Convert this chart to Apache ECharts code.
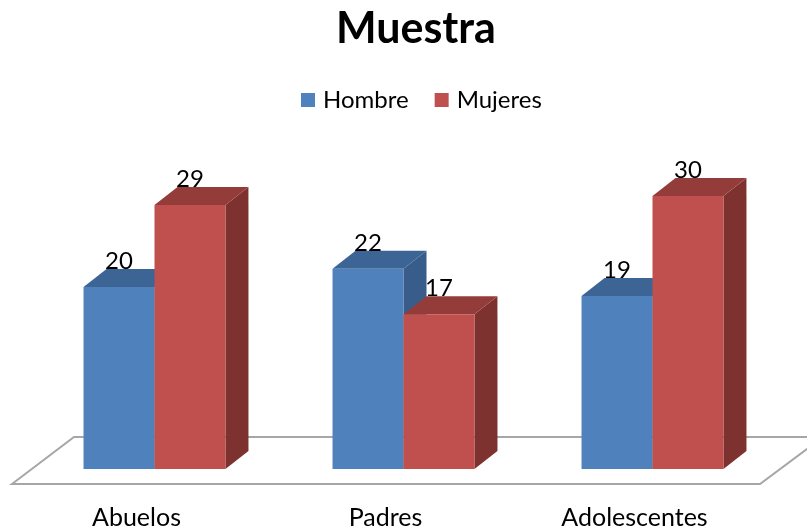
<!DOCTYPE html>
<html>
<head>
<meta charset="utf-8">
<script src="https://cdn.jsdelivr.net/npm/echarts@6/dist/echarts.min.js"></script>
<style>html,body{margin:0;padding:0;background:#fff;}#c{width:807px;height:526px;}</style>
</head>
<body>
<div id="c"></div>
<script>
const categories = ['Abuelos', 'Padres', 'Adolescentes'];
const seriesNames = ['Hombre', 'Mujeres'];
const hombre = [20, 22, 19];
const mujeres = [29, 17, 30];

const FONT = 'Lato';
const palettes = [
  { front: '#4F81BD', top: '#3C6595', side: '#385D8A' },
  { front: '#C0504D', top: '#943C3A', side: '#7D3230' }
];
const DX = 23, DY = 18;

function makeRender(idx) {
  const pal = palettes[idx];
  return function (params, api) {
    const cat = api.value(0), val = api.value(1);
    const base = api.coord([cat, 0]);
    const top = api.coord([cat, val]);
    const band = api.size([1, 0])[0];
    const w = band * 0.285;
    const x0 = idx === 0 ? base[0] - w : base[0];
    const x1 = x0 + w;
    const yb = base[1], yt = top[1];
    return {
      type: 'group',
      children: [
        { type: 'polygon', shape: { points: [[x1, yt], [x1 + DX, yt - DY], [x1 + DX, yb - DY], [x1, yb]] }, style: { fill: pal.side } },
        { type: 'polygon', shape: { points: [[x0, yt], [x1, yt], [x1 + DX, yt - DY], [x0 + DX, yt - DY]] }, style: { fill: pal.top } },
        { type: 'rect', shape: { x: x0, y: yt, width: w, height: yb - yt }, style: { fill: pal.front } },
        { type: 'text', x: (x0 + x1) / 2, y: yt - DY + 4, style: { text: String(val), fill: '#000', font: '24px ' + FONT, align: 'center', verticalAlign: 'bottom' } }
      ]
    };
  };
}

function floorRender(params, api) {
  const cs = params.coordSys;
  const y0 = cs.y + cs.height;
  const l = cs.x, r = cs.x + cs.width;
  return {
    type: 'polygon',
    shape: { points: [[l - 18, y0 + 15], [l + 44, y0 - 32], [r + 46, y0 - 32], [r - 17, y0 + 15]] },
    style: { fill: '#fff', stroke: '#A6A6A6', lineWidth: 2 },
    z2: 0
  };
}

const chart = echarts.init(document.getElementById('c'));
chart.setOption({
  animation: false,
  title: {
    text: 'Muestra', left: 331, top: 3,
    textStyle: { fontFamily: FONT, fontWeight: 'bold', fontSize: 43, color: '#000' }
  },
  legend: {
    data: seriesNames, left: 296, top: 83,
    icon: 'rect', itemWidth: 14, itemHeight: 14, itemGap: 26,
    textStyle: { fontFamily: FONT, fontSize: 24, color: '#000', padding: [0, 0, 0, 3] }
  },
  grid: { left: 30, right: 30, top: 150.5, bottom: 57, containLabel: false, outerBoundsMode: 'none' },
  xAxis: {
    type: 'category', data: categories,
    axisLine: { show: false }, axisTick: { show: false },
    axisLabel: { margin: 36, fontFamily: FONT, fontSize: 25, color: '#000', padding: [0, 36, 0, 0] }
  },
  yAxis: { type: 'value', min: 0, max: 35, show: false, splitLine: { show: false } },
  series: [
    { type: 'custom', name: 'floor', renderItem: floorRender, data: [[0, 0]], encode: { x: 0, y: 1 }, silent: true, z: 1 },
    { type: 'custom', name: seriesNames[0], renderItem: makeRender(0), data: hombre.map((v, i) => [i, v]), encode: { x: 0, y: 1 }, itemStyle: { color: palettes[0].front }, z: 2 },
    { type: 'custom', name: seriesNames[1], renderItem: makeRender(1), data: mujeres.map((v, i) => [i, v]), encode: { x: 0, y: 1 }, itemStyle: { color: palettes[1].front }, z: 3 }
  ]
});
</script>
</body>
</html>
